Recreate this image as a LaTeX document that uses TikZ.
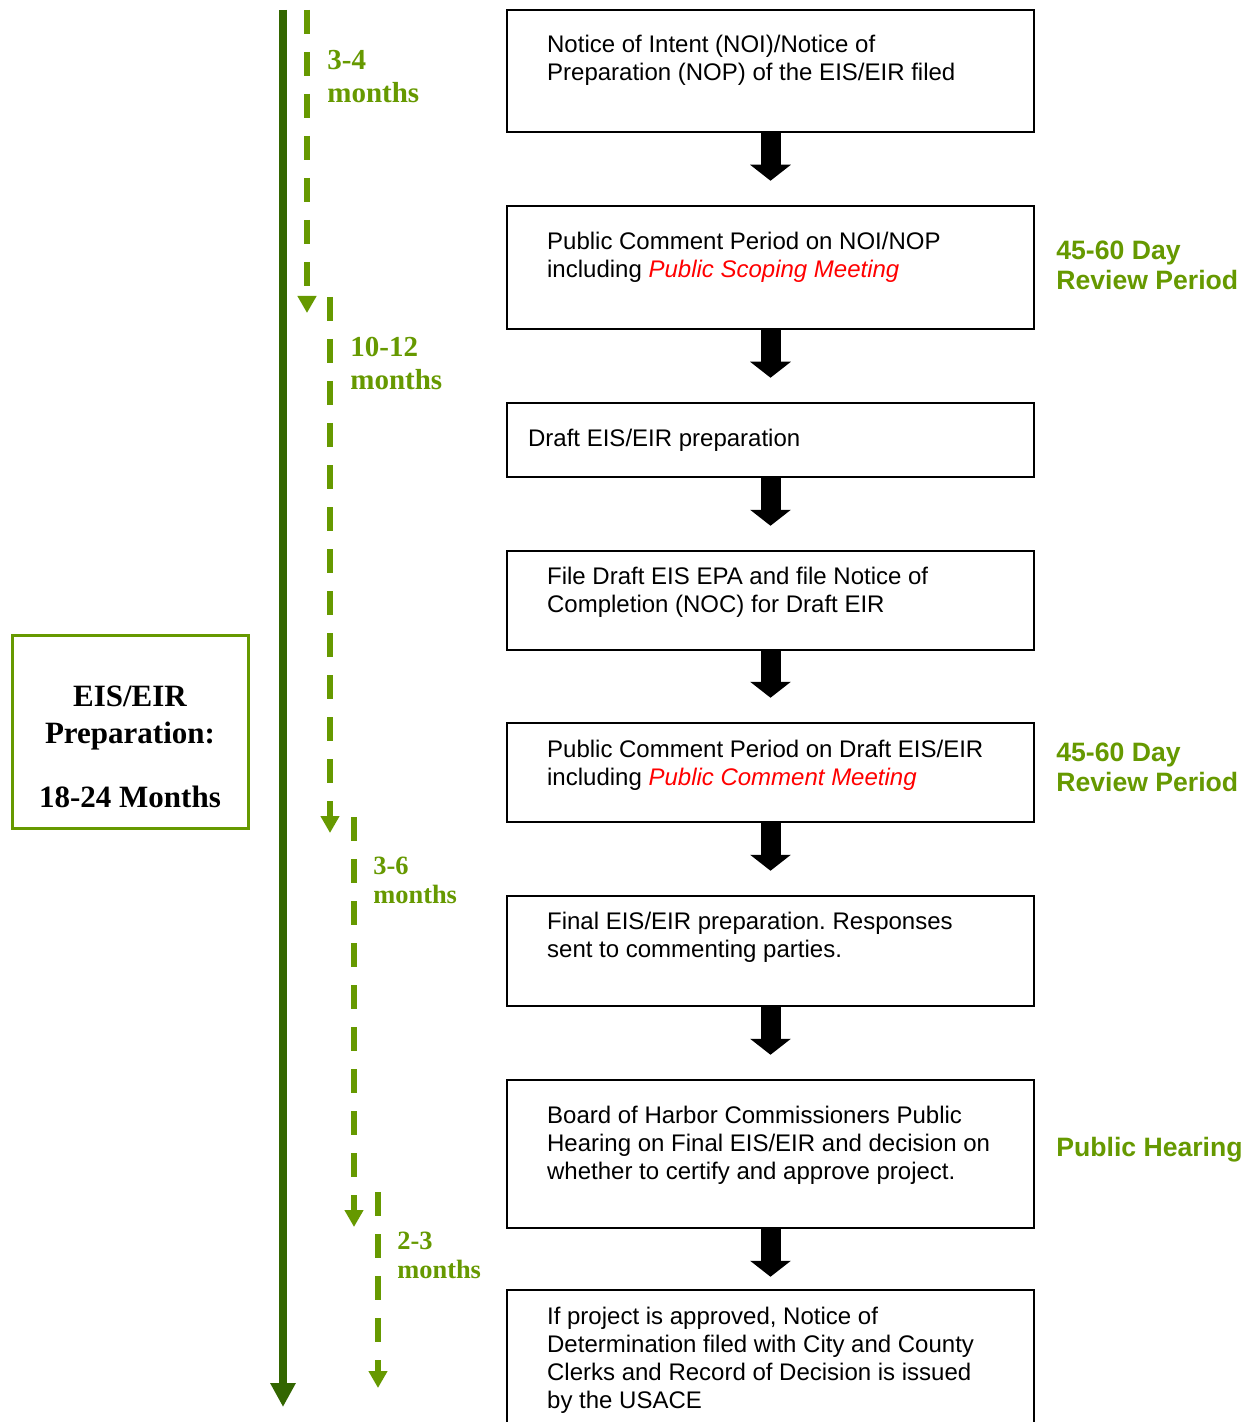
\documentclass[tikz,border=0pt]{standalone}
\usepackage{fontspec}
\setmainfont{Liberation Serif}
\setsansfont{Liberation Sans}
\usetikzlibrary{arrows.meta,calc}
\definecolor{lg}{HTML}{669900}
\definecolor{dg}{HTML}{336600}
\definecolor{rd}{HTML}{FF0000}
\frenchspacing
\begin{document}
\begin{tikzpicture}[x=0.5pt,y=-0.5pt,
  stepbox/.style={draw=black,line width=1.25pt,minimum width=263.5pt,inner sep=0pt,rectangle},
  boxtext/.style={anchor=north west,inner sep=0pt,align=left,font=\sffamily\fontsize{12}{14}\selectfont},
  sidelabel/.style={anchor=north west,inner sep=0pt,align=left,text=lg,font=\sffamily\bfseries\fontsize{13.3}{15}\selectfont},
  durbig/.style={anchor=north west,inner sep=0pt,align=left,text=lg,font=\rmfamily\bfseries\fontsize{14.5}{16.5}\selectfont},
  dursmall/.style={anchor=north west,inner sep=0pt,align=left,text=lg,font=\rmfamily\bfseries\fontsize{13.2}{14.5}\selectfont},
  flowarrow/.style={draw=black,line width=10pt,-{Triangle[width=20pt,length=8pt]}},
  timeline/.style={draw=dg,line width=4pt,-{Triangle[width=12pt,length=12pt]}},
  phase/.style={draw=lg,line width=2.8pt,dash pattern=on 12pt off 9pt,-{Triangle[width=9pt,length=8.5pt]}}
]
\useasboundingbox[fill=white] (0,0) rectangle (1251,1422);

% boxes
\node[stepbox,minimum height=61pt]   (b1) at (770.5,71) {};
\node[stepbox,minimum height=61.5pt] (b2) at (770.5,267.5) {};
\node[stepbox,minimum height=37pt]   (b3) at (770.5,440) {};
\node[stepbox,minimum height=49.5pt] (b4) at (770.5,600.5) {};
\node[stepbox,minimum height=49.5pt] (b5) at (770.5,772.5) {};
\node[stepbox,minimum height=55pt]   (b6) at (770.5,951) {};
\node[stepbox,minimum height=74pt]   (b7) at (770.5,1154) {};
\node[stepbox,minimum height=75pt]   (b8) at (770.5,1365) {};

% box texts
\node[boxtext] (t1) at ($(b1.north west)+(41,24)$) {\strut Notice of Intent (NOI)/Notice of\\Preparation (NOP) of the EIS/EIR filed};
\node[boxtext] (t2) at ($(b2.north west)+(41,25)$) {\strut Public Comment Period on NOI/NOP\\including \textcolor{rd}{\itshape Public Scoping Meeting}};
\node[boxtext] (t3) at ($(b3.north west)+(22,25)$) {\strut Draft EIS/EIR preparation};
\node[boxtext] (t4) at ($(b4.north west)+(41,15)$) {\strut File Draft EIS EPA and file Notice of\\Completion (NOC) for Draft EIR};
\node[boxtext] (t5) at ($(b5.north west)+(41,16)$) {\strut Public Comment Period on Draft EIS/EIR\\including \textcolor{rd}{\itshape Public Comment Meeting}};
\node[boxtext] (t6) at ($(b6.north west)+(41,15)$) {\strut Final EIS/EIR preparation. Responses\\sent to commenting parties.};
\node[boxtext] (t7) at ($(b7.north west)+(41,25)$) {\strut Board of Harbor Commissioners Public\\Hearing on Final EIS/EIR and decision on\\whether to certify and approve project.};
\node[boxtext] (t8) at ($(b8.north west)+(41,16)$) {\strut If project is approved, Notice of\\Determination filed with City and County\\Clerks and Record of Decision is issued\\by the USACE};

% flow arrows
\draw[flowarrow] (b1.south) -- ($(b2.north)+(0,-24)$);
\draw[flowarrow] (b2.south) -- ($(b3.north)+(0,-24)$);
\draw[flowarrow] (b3.south) -- ($(b4.north)+(0,-24)$);
\draw[flowarrow] (b4.south) -- ($(b5.north)+(0,-24)$);
\draw[flowarrow] (b5.south) -- ($(b6.north)+(0,-24)$);
\draw[flowarrow] (b6.south) -- ($(b7.north)+(0,-24)$);
\draw[flowarrow] (b7.south) -- ($(b8.north)+(0,-12)$);

% side labels
\node[sidelabel] (s1) at (1056,238.5) {\strut 45-60 Day\\Review Period};
\node[sidelabel] (s2) at (1056,740.5) {\strut 45-60 Day\\Review Period};
\node[sidelabel] (s3) at (1056,1135.5) {\strut Public Hearing};

% timeline
\coordinate (tl0) at (283,10);
\coordinate (tl1) at (283,1407);
\draw[timeline] (tl0) -- (tl1);

\coordinate (p1a) at (307,10);   \coordinate (p1b) at (307,313);
\coordinate (p2a) at (330,297);  \coordinate (p2b) at (330,833);
\coordinate (p3a) at (354,817);  \coordinate (p3b) at (354,1227);
\coordinate (p4a) at (378,1192); \coordinate (p4b) at (378,1388);
\draw[phase] (p1a) -- (p1b);
\draw[phase] (p2a) -- (p2b);
\draw[phase] (p3a) -- (p3b);
\draw[phase] (p4a) -- (p4b);

\node[durbig]   (d1) at (327,46) {\strut 3-4\\months};
\node[durbig]   (d2) at (350,333) {\strut 10-12\\months};
\node[dursmall] (d3) at (373,854) {\strut 3-6\\months};
\node[dursmall] (d4) at (397,1229) {\strut 2-3\\months};

% left summary box
\node[draw=lg,line width=1.5pt,minimum width=118pt,minimum height=96.5pt,inner sep=0pt] (sum) at (130,731.5) {};
\node[anchor=north,inner sep=0pt,align=center,font=\rmfamily\bfseries\fontsize{15.5}{18.5}\selectfont] (sumt) at (130,680) {\strut EIS/EIR\\Preparation:\\[13.5pt]18-24 Months};
\end{tikzpicture}
\end{document}
